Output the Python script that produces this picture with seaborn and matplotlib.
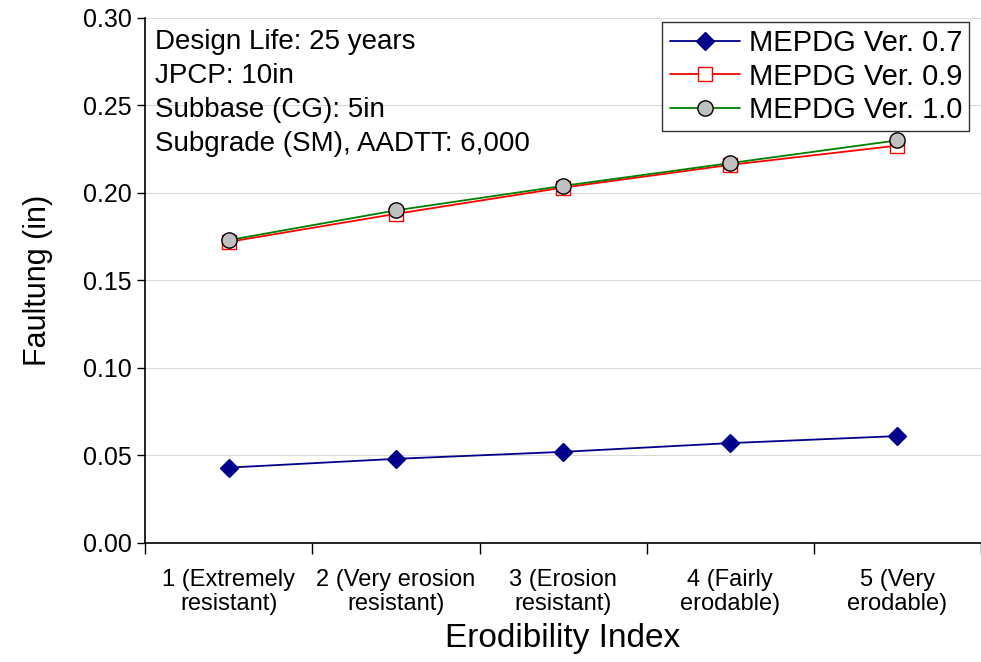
import matplotlib.pyplot as plt
import matplotlib.ticker as mticker
import pandas as pd
import seaborn as sns

categories = [
    "1 (Extremely\nresistant)",
    "2 (Very erosion\nresistant)",
    "3 (Erosion\nresistant)",
    "4 (Fairly\nerodable)",
    "5 (Very\nerodable)",
]
ver_07 = [0.043, 0.048, 0.052, 0.057, 0.061]
ver_09 = [0.172, 0.188, 0.203, 0.216, 0.227]
ver_10 = [0.173, 0.190, 0.204, 0.217, 0.230]

sns.set_theme(style="white")
plt.rcParams["font.family"] = ["Liberation Sans", "DejaVu Sans"]
plt.rcParams.update({"text.color": "black", "axes.labelcolor": "black",
                     "xtick.color": "black", "ytick.color": "black"})

fig = plt.figure(figsize=(9.81, 6.62), dpi=100)
ax = fig.add_axes([0.148, 0.180, 0.852, 0.793])

x = list(range(len(categories)))
styles = [
    ("MEPDG Ver. 0.7", ver_07, dict(color="#00008B", marker="D", markersize=9,
                                    markerfacecolor="#00008B", markeredgecolor="#00008B")),
    ("MEPDG Ver. 0.9", ver_09, dict(color="#FF0000", marker="s", markersize=10,
                                    markerfacecolor="white", markeredgecolor="#FF0000")),
    ("MEPDG Ver. 1.0", ver_10, dict(color="#008000", marker="o", markersize=11,
                                    markerfacecolor="#C0C0C0", markeredgecolor="black")),
]
for name, vals, kw in styles:
    df = pd.DataFrame({"x": x, "y": vals})
    sns.lineplot(data=df, x="x", y="y", ax=ax, label=name, linewidth=1.3,
                 markeredgewidth=1.0, **kw)

ax.set_xlim(-0.5, len(categories) - 0.5)
ax.set_ylim(0, 0.30)
ax.yaxis.set_major_locator(mticker.MultipleLocator(0.05))
ax.yaxis.set_major_formatter(mticker.FormatStrFormatter("%.2f"))
ax.grid(axis="y", color="#d9d9d9", linewidth=0.8)
ax.set_axisbelow(True)

ax.xaxis.set_major_locator(mticker.FixedLocator([i - 0.5 for i in range(len(categories) + 1)]))
ax.xaxis.set_major_formatter(mticker.NullFormatter())
ax.xaxis.set_minor_locator(mticker.FixedLocator(x))
ax.xaxis.set_minor_formatter(mticker.FixedFormatter(categories))
ax.tick_params(axis="x", which="major", direction="out", length=8, width=1, bottom=True)
ax.tick_params(axis="x", which="minor", length=0, labelsize=17, pad=19)
for lbl in ax.xaxis.get_minorticklabels():
    lbl.set_linespacing(1.1)
ax.tick_params(axis="y", direction="out", length=6, width=1, left=True, labelsize=18)

for s in ["top", "right"]:
    ax.spines[s].set_visible(False)
for s in ["left", "bottom"]:
    ax.spines[s].set_color("black")
    ax.spines[s].set_linewidth(1.2)

ax.set_xlabel("Erodibility Index", fontsize=24, labelpad=6)
ax.set_ylabel("Faultung (in)", fontsize=22, labelpad=22)

ax.text(0.012, 0.978,
        "Design Life: 25 years\nJPCP: 10in\nSubbase (CG): 5in\nSubgrade (SM), AADTT: 6,000",
        transform=ax.transAxes, ha="left", va="top", fontsize=20, linespacing=1.4)

leg = ax.legend(loc="upper right", bbox_to_anchor=(0.993, 1.003), fontsize=21, frameon=True,
                fancybox=False, edgecolor="black", handlelength=2.4, borderpad=0.25,
                labelspacing=0.18, handletextpad=0.3, borderaxespad=0.2)
leg.get_frame().set_linewidth(1.0)

fig.savefig("out.png", dpi=100)
